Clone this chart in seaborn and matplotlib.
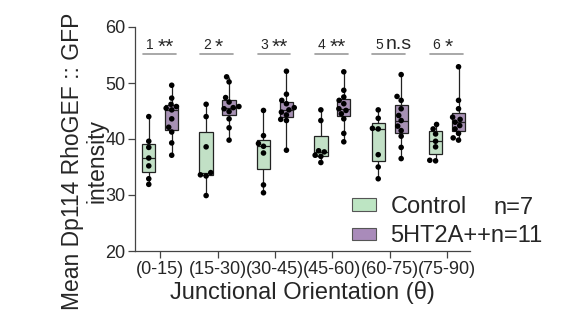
import numpy as np
import pandas as pd
import matplotlib
matplotlib.use("Agg")
import matplotlib.pyplot as plt
import seaborn as sns
from matplotlib.patches import Patch

sns.set_style("white")
plt.rcParams['font.family'] = ['Liberation Sans', 'DejaVu Sans']

categories = ["(0-15)", "(15-30)", "(30-45)", "(45-60)", "(60-75)", "(75-90)"]
groups = ["Control", "5HT2A++"]
control = [
    [44.0, 39.6, 38.5, 36.6, 35.2, 32.9, 31.9],
    [46.2, 44.0, 38.6, 34.0, 33.6, 33.4, 29.9],
    [45.1, 40.6, 39.2, 38.7, 37.5, 31.8, 30.4],
    [45.2, 43.3, 37.9, 37.7, 37.1, 36.9, 35.8],
    [45.2, 43.7, 41.9, 41.8, 37.2, 35.0, 32.9],
    [42.6, 41.8, 40.9, 39.6, 38.6, 36.2, 36.1],
]
treated = [
    [49.6, 47.3, 46.2, 45.8, 45.5, 45.2, 43.6, 42.1, 41.25, 39.3, 37.1],
    [51.1, 50.2, 47.4, 46.6, 45.8, 45.6, 45.4, 44.9, 43.6, 42.0, 39.8],
    [52.1, 48.0, 46.9, 46.3, 45.6, 45.2, 44.8, 44.3, 43.5, 43.3, 38.0],
    [52.0, 48.7, 47.5, 46.9, 46.3, 45.4, 45.1, 44.5, 43.6, 41.0, 39.5],
    [51.5, 47.6, 46.9, 45.4, 44.2, 43.3, 42.3, 41.5, 40.5, 38.5, 36.5],
    [52.9, 46.9, 45.4, 43.9, 43.5, 43.0, 42.4, 41.8, 41.0, 40.2, 39.8],
]
sig_numbers = ["1", "2", "3", "4", "5", "6"]
sig_marks = ["**", "*", "**", "**", "n.s", "*"]
legend_labels = ["Control", "5HT2A++n=11"]
n_control_text = "n=7"

rows = []
for c, vals in zip(categories, control):
    for v in vals:
        rows.append((c, groups[0], v))
for c, vals in zip(categories, treated):
    for v in vals:
        rows.append((c, groups[1], v))
df = pd.DataFrame(rows, columns=["cat", "group", "value"])

colors = {"Control": "#bde5c3", "5HT2A++": "#a98bba"}

fig = plt.figure(figsize=(5.63, 3.33), dpi=100)
ax = fig.add_axes([135/563, 1-251/333, (470-135)/563, (251-27)/333])

sns.boxplot(data=df, x="cat", y="value", hue="group", order=categories,
            hue_order=groups, palette=colors, whis=(0, 100), gap=0.42,
            showcaps=False, linewidth=0.9, linecolor="#222222",
            fliersize=0, ax=ax, legend=False)
sns.swarmplot(data=df, x="cat", y="value", hue="group", order=categories,
              hue_order=groups, dodge=True, palette=["black", "black"],
              size=4, ax=ax, legend=False)

ax.set_ylim(20, 60)
ax.set_xlim(-0.44, 5.4)
ax.set_yticks([20, 30, 40, 50, 60])
ax.tick_params(axis="both", labelsize=13, length=5, width=0.9,
               color="#444444", direction="out", left=True, bottom=True, pad=2)
for s in ["top", "right"]:
    ax.spines[s].set_visible(False)
for s in ["left", "bottom"]:
    ax.spines[s].set_color("#444444")
    ax.spines[s].set_linewidth(0.9)

ax.set_xlabel("Junctional Orientation (θ)", fontsize=17, labelpad=2)
ax.set_ylabel("Mean Dp114 RhoGEF :: GFP\nintensity", fontsize=16.5,
              linespacing=1.05)
ax.yaxis.set_label_coords(-0.08, 0.40)

for i, (num, mark) in enumerate(zip(sig_numbers, sig_marks)):
    ax.plot([i - 0.30, i + 0.27], [55.1, 55.1], color="#999999", lw=1.2,
            clip_on=False)
    ax.text(i - 0.12, 55.6, num, ha="right", va="bottom", fontsize=10)
    if mark == "n.s":
        ax.text(i - 0.07, 55.4, mark, ha="left", va="bottom", fontsize=14)
    else:
        ax.text(i - 0.05, 54.6, mark, ha="left", va="bottom", fontsize=15)

handles = [Patch(facecolor=colors[g], edgecolor="#555555", linewidth=0.8)
           for g in groups]
leg = fig.legend(handles, legend_labels, loc="upper left",
                 bbox_to_anchor=(352/563, 1-196/333), frameon=False,
                 fontsize=17, handlelength=1.0, handleheight=0.42,
                 handletextpad=0.62, labelspacing=0.3, borderpad=0,
                 borderaxespad=0)
fig.text(493/563, 1-208/333, n_control_text, fontsize=17, ha="left",
         va="center")

fig.savefig("out.png", dpi=100)
